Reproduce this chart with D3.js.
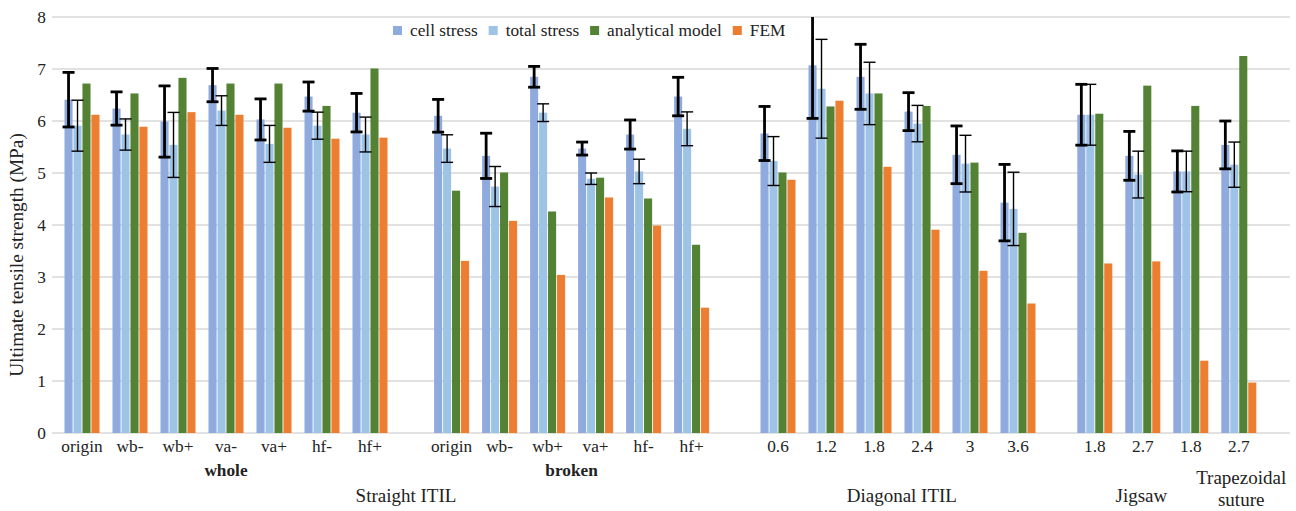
<!DOCTYPE html>
<html>
<head>
<meta charset="utf-8">
<script src="https://cdn.jsdelivr.net/npm/d3@7"></script>
<style>
  html, body { margin: 0; padding: 0; background: #fff; }
  svg { display: block; }
</style>
</head>
<body>
<svg id="chart" width="1296" height="511"></svg>
<script>
// ---------- data ----------
const categories = ["origin","wb-","wb+","va-","va+","hf-","hf+",
                    "origin","wb-","wb+","va+","hf-","hf+",
                    "0.6","1.2","1.8","2.4","3","3.6",
                    "1.8","2.7",
                    "1.8","2.7"];
const groups = ["whole","whole","whole","whole","whole","whole","whole",
                "broken","broken","broken","broken","broken","broken",
                "diag","diag","diag","diag","diag","diag",
                "jig","jig",
                "trap","trap"];
const subgroupLabels = [{group: "whole", text: "whole"}, {group: "broken", text: "broken"}];
const sectionLabels = [
  {groups: ["whole","broken"], lines: ["Straight ITIL"]},
  {groups: ["diag"], lines: ["Diagonal ITIL"]},
  {groups: ["jig"], lines: ["Jigsaw"]},
  {groups: ["trap"], lines: ["Trapezoidal", "suture"]}
];
const seriesNames = ["cell stress", "total stress", "analytical model", "FEM"];
const cellStress = [6.41,6.24,5.99,6.69,6.03,6.47,6.16,
                    6.10,5.33,6.85,5.47,5.74,6.47,
                    5.76,7.07,6.85,6.18,5.35,4.43,
                    6.12,5.33,
                    5.03,5.54];
const cellStressErr = [0.525,0.32,0.685,0.32,0.395,0.28,0.37,
                       0.315,0.435,0.20,0.125,0.28,0.37,
                       0.52,1.02,0.625,0.365,0.555,0.735,
                       0.585,0.47,
                       0.395,0.46];
const totalStress = [5.91,5.74,5.54,6.20,5.56,5.91,5.74,
                     5.47,4.74,6.16,4.89,5.03,5.85,
                     5.23,6.62,6.53,5.95,5.18,4.31,
                     6.12,4.97,
                     5.03,5.16];
const totalStressErr = [0.49,0.30,0.625,0.285,0.355,0.26,0.335,
                        0.265,0.385,0.17,0.11,0.235,0.325,
                        0.47,0.95,0.60,0.35,0.545,0.705,
                        0.585,0.45,
                        0.39,0.435];
const analyticalModel = [6.72,6.53,6.83,6.72,6.72,6.29,7.01,
                         4.66,5.01,4.26,4.91,4.51,3.62,
                         5.01,6.28,6.53,6.29,5.20,3.85,
                         6.14,6.68,
                         6.29,7.25];
const fem = [6.12,5.89,6.17,6.12,5.87,5.66,5.68,
             3.31,4.08,3.04,4.53,3.99,2.41,
             4.87,6.39,5.12,3.91,3.12,2.49,
             3.26,3.30,
             1.39,0.97];
const yTicks = [0,1,2,3,4,5,6,7,8];
const yTitle = "Ultimate tensile strength (MPa)";

// ---------- layout ----------
const FONT = "'Liberation Serif', 'Times New Roman', serif";
const colors = ["#8faadc", "#9dc3e6", "#548235", "#ed7d31"];
const seriesValues = [cellStress, totalStress, analyticalModel, fem];
const errors = [cellStressErr, totalStressErr];
const plot = {left: 52, right: 1290, top: 17, bottom: 433};
const groupGap = {broken: 0.7, diag: 0.8, jig: 0.6, trap: 0};   // extra slot spacing before a group
const labelShift = {"Straight ITIL": 0.4, "Diagonal ITIL": 0.08, "Jigsaw": 0.47, "Trapezoidal": 0.55};

// slot index of each category
const slots = [];
let s = 0;
categories.forEach((c, i) => {
  if (i > 0) {
    s += 1;
    if (groups[i] !== groups[i - 1]) s += groupGap[groups[i]] || 0;
  }
  slots.push(s);
});

const svg = d3.select("#chart");
const x = d3.scaleLinear().domain([0, slots[slots.length - 1]]).range([82, 1238.8]);
const y = d3.scaleLinear().domain([0, 8]).range([plot.bottom, plot.top]);
const inner = d3.scaleBand().domain(seriesNames).range([-17.5, 17.5]).paddingInner(0.1);

svg.append("defs").append("clipPath").attr("id", "plotClip")
  .append("rect").attr("x", plot.left).attr("y", plot.top)
  .attr("width", plot.right - plot.left).attr("height", plot.bottom - plot.top + 2);

// gridlines
svg.append("g").selectAll("line").data(yTicks).join("line")
  .attr("x1", plot.left).attr("x2", plot.right)
  .attr("y1", d => y(d)).attr("y2", d => y(d))
  .attr("stroke", "#d9d9d9").attr("stroke-width", 1.5);

// y tick labels
svg.append("g").selectAll("text").data(yTicks).join("text")
  .attr("x", 46).attr("y", d => y(d) + 6)
  .attr("text-anchor", "end").attr("font-size", "17.3px").attr("font-family", FONT).attr("fill", "#222")
  .text(d => d);

// y title
svg.append("text")
  .attr("transform", `translate(23, ${(plot.top + plot.bottom) / 2 + 30}) rotate(-90)`)
  .attr("text-anchor", "middle").attr("font-size", "19.3px").attr("font-family", FONT).attr("fill", "#222")
  .text(yTitle);

// bars
const barsG = svg.append("g").attr("clip-path", "url(#plotClip)");
seriesNames.forEach((name, si) => {
  barsG.append("g").selectAll("rect").data(seriesValues[si]).join("rect")
    .attr("x", (d, i) => x(slots[i]) + inner(name))
    .attr("width", inner.bandwidth())
    .attr("y", d => y(d))
    .attr("height", d => y(0) - y(d))
    .attr("fill", colors[si]);
});

// error bars
const errG = svg.append("g").attr("clip-path", "url(#plotClip)");
const errStyle = [{w: 2.8, cap: 12}, {w: 1.4, cap: 12}];
[0, 1].forEach(si => {
  const name = seriesNames[si];
  const vals = seriesValues[si];
  const errs = errors[si];
  const g = errG.append("g").attr("stroke", "#000").attr("stroke-width", errStyle[si].w);
  vals.forEach((v, i) => {
    const cx = x(slots[i]) + inner(name) + inner.bandwidth() / 2;
    const hi = y(v + errs[i]), lo = y(v - errs[i]);
    const hc = errStyle[si].cap / 2;
    g.append("line").attr("x1", cx).attr("x2", cx).attr("y1", hi).attr("y2", lo);
    g.append("line").attr("x1", cx - hc).attr("x2", cx + hc).attr("y1", hi).attr("y2", hi);
    g.append("line").attr("x1", cx - hc).attr("x2", cx + hc).attr("y1", lo).attr("y2", lo);
  });
});

// category labels
svg.append("g").selectAll("text").data(categories).join("text")
  .attr("x", (d, i) => x(slots[i])).attr("y", 452)
  .attr("text-anchor", "middle").attr("font-size", "17.3px").attr("font-family", FONT).attr("fill", "#222")
  .text(d => d);

// sub-group labels
function groupSpan(gs) {
  const idx = categories.map((c, i) => i).filter(i => gs.includes(groups[i]));
  return [x(slots[idx[0]]), x(slots[idx[idx.length - 1]])];
}
svg.append("g").selectAll("text").data(subgroupLabels).join("text")
  .attr("x", d => { const sp = groupSpan([d.group]); return (sp[0] + sp[1]) / 2; })
  .attr("y", 476)
  .attr("text-anchor", "middle").attr("font-size", "17.3px").attr("font-weight", "bold")
  .attr("font-family", FONT).attr("fill", "#222")
  .text(d => d.text);

// section labels
const unit = x(1) - x(0);
sectionLabels.forEach(sec => {
  const sp = groupSpan(sec.groups);
  const cx = (sp[0] + sp[1]) / 2 + (labelShift[sec.lines[0]] || 0) * unit;
  const t = svg.append("text").attr("text-anchor", "middle")
    .attr("font-size", "19px").attr("font-family", FONT).attr("fill", "#222");
  const baseY = sec.lines.length > 1 ? 484 : 502;
  sec.lines.forEach((ln, k) => {
    t.append("tspan").attr("x", cx).attr("y", baseY + k * 21.5).text(ln);
  });
});

// legend
const legend = svg.append("g");
let lx = 393;
seriesNames.forEach((name, si) => {
  legend.append("rect").attr("x", lx).attr("y", 26).attr("width", 9).attr("height", 9).attr("fill", colors[si]);
  const t = legend.append("text").attr("x", lx + 17).attr("y", 36)
    .attr("font-size", "17.3px").attr("font-family", FONT).attr("fill", "#222").text(name);
  lx = lx + 17 + t.node().getComputedTextLength() + 11;
});
</script>
</body>
</html>
